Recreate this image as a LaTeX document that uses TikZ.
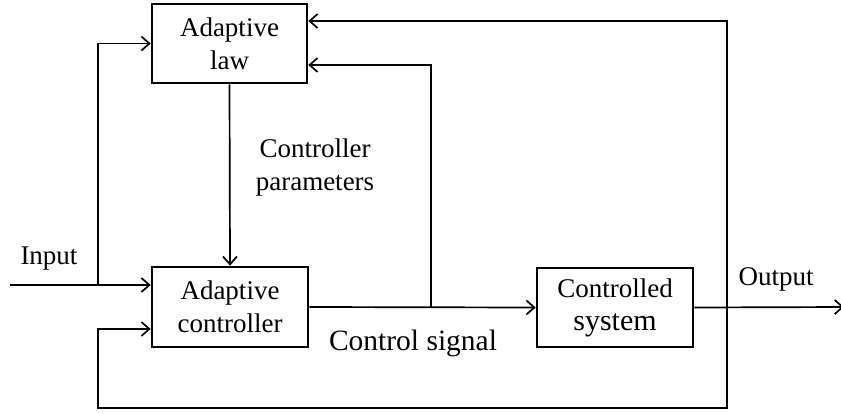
\documentclass[tikz,border=0pt]{standalone}
\usepackage{fontspec}
\setmainfont{Liberation Serif}
\usetikzlibrary{arrows.meta}
\begin{document}
\begin{tikzpicture}[x=1pt,y=-1pt,
  blk/.style={draw,line width=2.6pt,inner sep=0pt,align=center,font=\fontsize{27}{33}\selectfont},
  arr/.style={line width=1.7pt,-{Straight Barb[length=8pt,width=14pt,line width=1.7pt]}},
  lbl/.style={inner sep=0pt,align=center,font=\fontsize{27}{33}\selectfont}]
\useasboundingbox (0,0) rectangle (841,413);
\node[blk,minimum width=155pt,minimum height=79pt] (law) at (229.5,43.5) {Adaptive\\law};
\node[blk,minimum width=156pt,minimum height=80pt] (ctrl) at (230,307) {Adaptive\\controller};
\node[blk,minimum width=156pt,minimum height=79pt] (sys) at (615,307.5) {Controlled\\{\fontsize{30}{33}\selectfont system}};
\coordinate (in) at (10,285);
\coordinate (j1) at (98,285);
\coordinate (j2) at (727,307);
\coordinate (j3) at (431,307);
\coordinate (out) at (844,307);
\coordinate (top) at (727,21);
\coordinate (bot) at (727,408);
\coordinate (bl) at (98,408);
\coordinate (fb) at (98,329);
\draw[arr] (in) -- (in -| ctrl.west);
\draw[arr] (j1) |- (law.west);
\draw[arr] (law.south) -- (ctrl.north);
\draw[arr] (ctrl.east) -- (sys.west);
\draw[arr] (sys.east) -- (out);
\draw[arr] (j3) |- (law.east |- 0,65);
\draw[arr] (bot) -- (top) -- (top -| law.east);
\draw[arr] (j2) -- (bot) -- (bl) -- (fb) -- (fb -| ctrl.west);
\node[lbl] (tin) at (49,259) {Input};
\node[lbl] (tout) at (776,279) {Output};
\node[lbl,font=\fontsize{29.5}{33}\selectfont] (tcs) at (413,343) {Control signal};
\node[lbl] (tcp) at (315,168) {Controller\\parameters};
\end{tikzpicture}
\end{document}
